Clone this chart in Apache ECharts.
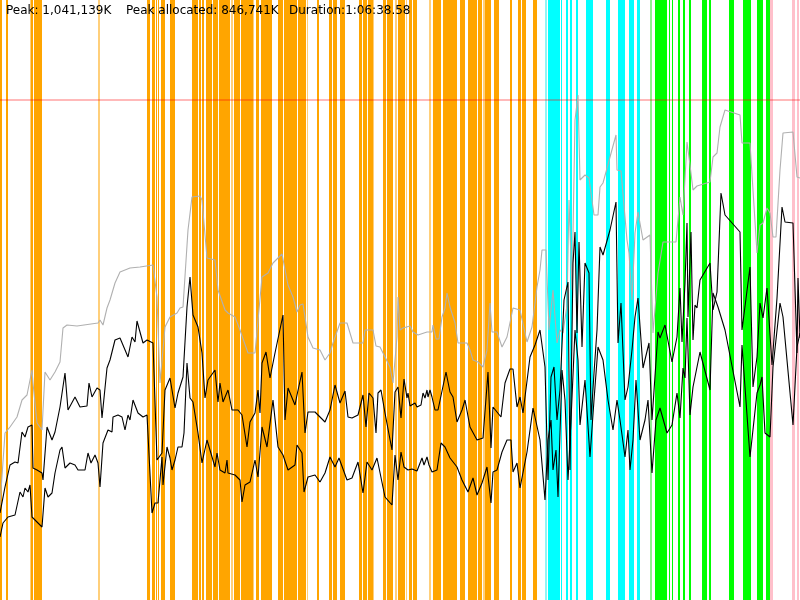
<!DOCTYPE html>
<html><head><meta charset="utf-8">
<script src="https://cdn.jsdelivr.net/npm/echarts@6/dist/echarts.min.js"></script>
<style>html,body{margin:0;padding:0;background:#fff}#c{width:800px;height:600px}</style>
</head><body><div id="c"></div>
<script>
// GC event bands: [start, end] along the time axis (0..800 units)
const orangeBars = [[0,2],[6,8],[31,33],[34,42],[147,150],[152,155],[156,157],[158,159],[161,165],[170,175],[192,198],[199,201],[202,204],[206,212],[213,218],[219,227],[227,230],[234,237],[237,240],[241,250],[250,253],[256,259],[261,272],[278,283],[284,297],[298,306],[317,319],[329,332],[333,337],[340,345],[359,362],[363,367],[368,373],[383,386],[387,393],[398,405],[409,412],[413,417],[433,441],[443,457],[460,465],[468,477],[478,482],[485,491],[494,499],[510,512],[518,521],[522,526],[533,537]];
const orangeLightBars = [[30,31],[98,100],[231,233],[253,254],[307,308],[373,374],[395,397],[406,407],[429,431],[483,485]];
const cyanBars = [[548,560],[561,562],[566,568],[570,572],[576,578],[586,593],[606,610],[618,625],[629,634],[637,640]];
const cyanLightBars = [[545,547]];
const greenBars = [[655,667],[669,670],[672,673],[678,680],[683,685],[689,691],[702,707],[709,711],[729,734],[743,751],[757,763],[766,770]];
const greenLightBars = [[650,652]];
const pinkBars = [[770,773],[792,795],[797,799]];
const peakLevel = [[0,100],[800,100]];

// memory curves: [time, level] (level measured downward from top, 0..600)
const grayLine = [[0,505],[5,433],[10,427],[17,417],[22,400],[27,395],[32,370],[33,383],[37,423],[42,430],[45,372],[50,380],[55,372],[60,362],[63,328],[67,325],[77,326],[98,323],[100,320],[103,325],[107,308],[110,300],[115,283],[120,272],[130,268],[140,267],[153,265],[157,297],[160,383],[165,327],[167,325],[170,317],[177,313],[180,308],[183,307],[188,230],[192,197],[200,196],[202,200],[207,258],[215,260],[218,290],[225,310],[228,313],[235,317],[240,330],[248,353],[255,353],[262,277],[268,273],[273,263],[282,254],[283,253],[288,285],[293,297],[297,312],[300,305],[303,304],[308,337],[313,348],[320,350],[325,360],[330,353],[333,343],[340,323],[347,323],[353,343],[363,343],[365,330],[373,330],[376,346],[380,347],[385,357],[390,367],[393,383],[397,337],[398,297],[400,330],[403,328],[410,326],[413,332],[418,335],[427,332],[432,332],[433,325],[436,339],[439,339],[442,317],[445,308],[447,293],[450,307],[455,323],[458,343],[467,343],[470,350],[473,360],[478,362],[483,367],[487,350],[490,303],[492,332],[497,332],[502,347],[507,337],[512,313],[513,308],[520,310],[527,342],[532,327],[537,287],[540,270],[542,250],[546,250],[549,330],[553,290],[557,343],[560,330],[563,333],[567,305],[569,200],[572,290],[575,120],[578,95],[580,180],[585,175],[589,178],[594,215],[598,215],[600,187],[603,183],[610,157],[616,135],[617,170],[621,171],[627,240],[629,253],[632,300],[635,233],[638,212],[643,240],[650,235],[653,333],[658,273],[663,242],[667,242],[676,242],[680,197],[683,215],[687,142],[690,165],[693,190],[697,186],[710,182],[713,157],[717,153],[720,127],[725,110],[740,115],[742,143],[750,143],[757,253],[760,225],[763,223],[767,208],[770,213],[773,237],[776,237],[780,170],[783,133],[793,132],[797,177],[800,178]];

const upperLine = [[0,513],[2,515],[5,487],[10,465],[15,462],[18,463],[22,432],[25,437],[28,427],[32,425],[33,468],[37,470],[42,473],[43,480],[47,427],[52,440],[55,432],[60,407],[65,373],[68,410],[75,397],[80,407],[87,406],[89,383],[92,397],[97,388],[100,390],[102,418],[107,368],[110,360],[115,340],[120,338],[128,357],[132,337],[135,342],[137,321],[140,332],[143,343],[147,340],[153,343],[157,460],[162,453],[165,390],[170,378],[175,408],[178,393],[183,377],[187,307],[190,277],[193,315],[198,327],[202,353],[205,398],[208,380],[215,370],[218,402],[220,383],[223,402],[228,390],[232,410],[238,410],[242,415],[247,447],[250,422],[255,413],[258,390],[260,413],[262,363],[266,352],[270,378],[275,353],[283,315],[285,420],[288,388],[295,405],[297,395],[302,372],[305,433],[308,412],[315,412],[320,417],[325,422],[330,410],[335,385],[340,403],[345,391],[348,417],[352,418],[358,415],[363,395],[366,427],[369,393],[373,398],[376,433],[378,393],[381,390],[385,413],[392,450],[395,392],[398,387],[401,418],[404,379],[407,398],[408,393],[410,406],[415,403],[417,407],[421,405],[423,393],[425,398],[427,390],[428,397],[430,390],[432,397],[435,410],[438,410],[446,372],[450,392],[453,397],[457,422],[462,410],[465,400],[470,427],[477,440],[483,438],[488,372],[491,448],[493,407],[501,417],[505,383],[510,369],[513,369],[517,407],[520,397],[523,413],[530,357],[535,345],[540,330],[545,367],[548,480],[551,377],[554,367],[557,420],[560,390],[564,300],[568,282],[570,470],[573,263],[575,232],[577,333],[579,242],[582,347],[585,263],[589,273],[591,420],[594,373],[597,330],[600,247],[603,255],[610,230],[616,202],[618,343],[621,303],[625,400],[628,387],[632,350],[635,317],[638,298],[643,368],[649,343],[652,420],[658,332],[660,338],[665,325],[672,362],[677,337],[680,288],[682,342],[685,283],[687,223],[688,317],[691,232],[693,340],[695,305],[697,308],[700,280],[710,263],[713,310],[717,292],[721,193],[725,215],[740,232],[742,330],[750,267],[753,387],[757,357],[760,303],[763,318],[767,288],[772,365],[777,298],[782,207],[785,222],[793,223],[797,353],[798,278],[800,338]];

const lowerLine = [[0,537],[3,523],[8,517],[15,515],[20,492],[23,497],[25,488],[28,492],[30,485],[32,517],[37,522],[42,527],[45,488],[48,497],[52,493],[55,473],[60,450],[62,447],[65,468],[70,463],[75,465],[78,470],[85,470],[88,453],[91,463],[95,455],[98,463],[100,487],[103,443],[108,430],[112,432],[113,417],[118,415],[122,417],[125,430],[128,415],[130,420],[133,400],[138,413],[143,417],[147,415],[152,513],[155,503],[158,503],[162,457],[163,485],[167,447],[170,458],[172,470],[175,460],[178,447],[182,447],[184,433],[187,363],[190,398],[193,402],[198,433],[202,463],[207,440],[215,467],[217,453],[220,470],[225,473],[227,460],[228,473],[235,475],[240,480],[242,502],[245,485],[250,482],[255,460],[258,477],[262,427],[267,447],[273,400],[278,447],[283,455],[288,470],[295,465],[297,445],[302,453],[304,492],[308,477],[315,475],[320,482],[325,473],[330,457],[335,467],[339,458],[347,480],[352,478],[358,462],[363,493],[367,462],[372,470],[377,458],[385,497],[392,505],[395,455],[398,480],[401,452],[404,467],[408,470],[412,469],[417,471],[422,458],[424,465],[427,457],[429,465],[432,472],[437,470],[441,443],[445,447],[450,458],[457,467],[462,480],[468,492],[473,478],[477,495],[482,483],[487,467],[491,503],[493,472],[497,470],[502,452],[507,440],[511,440],[513,472],[517,463],[520,488],[527,452],[533,408],[540,440],[545,500],[548,440],[551,420],[553,470],[556,450],[558,497],[562,370],[565,400],[568,480],[571,420],[575,330],[578,360],[580,425],[585,380],[590,457],[594,400],[598,347],[603,360],[608,400],[613,430],[617,400],[620,420],[625,457],[628,430],[630,470],[633,440],[636,380],[640,440],[645,420],[648,400],[652,473],[656,420],[660,408],[667,433],[672,425],[677,393],[680,418],[683,368],[685,378],[687,318],[690,415],[693,387],[695,388],[700,352],[710,390],[713,293],[718,307],[725,330],[740,407],[742,345],[750,457],[757,393],[760,385],[762,377],[765,433],[770,437],[773,367],[780,303],[783,317],[793,425],[797,347],[800,333]];

const headerTexts = ['Peak: 1,041,139K', 'Peak allocated: 846,741K', 'Duration:1:06:38.58'];
const headerOffsets = [6, 126, 289];

function bandSeries(data, color) {
  return {
    type: 'custom', data: data, silent: true, z: 1,
    encode: { x: [0, 1] },
    renderItem: function (params, api) {
      const a = api.coord([api.value(0), 0]);
      const b = api.coord([api.value(1), 600]);
      return {
        type: 'rect',
        shape: { x: Math.min(a[0], b[0]), y: Math.min(a[1], b[1]), width: Math.abs(b[0] - a[0]), height: Math.abs(b[1] - a[1]) },
        style: { fill: color }
      };
    }
  };
}
function curve(data, color, z) {
  return { type: 'line', data: data, showSymbol: false, silent: true, z: z,
    lineStyle: { color: color, width: 1.1 }, itemStyle: { color: color } };
}

const chart = echarts.init(document.getElementById('c'), null, { renderer: 'canvas' });
chart.setOption({
  animation: false,
  backgroundColor: '#fff',
  grid: { left: 0, right: 0, top: 0, bottom: 0 },
  xAxis: { type: 'value', min: 0, max: 800, show: false },
  yAxis: { type: 'value', min: 0, max: 600, inverse: true, show: false },
  graphic: headerTexts.map((t, i) => ({
    type: 'text', left: headerOffsets[i], top: 5, z: 100,
    style: { text: t, font: '12px "DejaVu Sans"', fill: '#000' }
  })),
  series: [
    bandSeries(orangeBars, '#ffa500'),
    bandSeries(orangeLightBars, '#ffcf7a'),
    bandSeries(cyanBars, '#00ffff'),
    bandSeries(cyanLightBars, '#8ff5f5'),
    bandSeries(greenBars, '#00ff00'),
    bandSeries(greenLightBars, '#90f090'),
    bandSeries(pinkBars, '#ffc0cb'),
    curve(peakLevel, 'rgba(255,0,0,0.55)', 5),
    curve(grayLine, '#b0b0b0', 6),
    curve(upperLine, '#000000', 7),
    curve(lowerLine, '#000000', 7)
  ]
});
</script>
</body></html>
